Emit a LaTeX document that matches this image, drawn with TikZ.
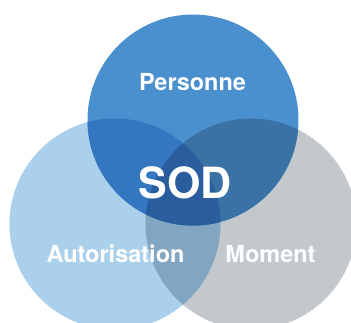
\documentclass[tikz,border=0pt]{standalone}
\usepackage{fontspec}
\setmainfont{TeX Gyre Heros}
\definecolor{cL}{HTML}{ABD0EC}
\definecolor{cR}{HTML}{C3C8CC}
\definecolor{cT}{HTML}{4A90CE}
\definecolor{cLR}{HTML}{82A5C1}
\definecolor{cTL}{HTML}{3476C0}
\definecolor{cTR}{HTML}{3A72A6}
\definecolor{cTLR}{HTML}{2A5D9E}
\tikzset{lab/.style={text=white,font=\bfseries\fontsize{23.5}{26}\selectfont,inner sep=0pt}}
\begin{document}
\begin{tikzpicture}[x=1pt,y=-1pt]
\useasboundingbox (0,0) rectangle (351,323);
\def\rr{105.5}
\coordinate (L) at (115,224);
\coordinate (R) at (251,224);
\coordinate (T) at (193,120);
\begin{scope}
\clip (0,0) rectangle (351,323);
\fill[cL] (L) circle (\rr);
\fill[cR] (R) circle (\rr);
\begin{scope}\clip (L) circle (\rr); \fill[cLR] (R) circle (\rr);\end{scope}
\fill[cT] (T) circle (\rr);
\begin{scope}\clip (T) circle (\rr); \fill[cTL] (L) circle (\rr); \fill[cTR] (R) circle (\rr);
  \clip (L) circle (\rr); \fill[cTLR] (R) circle (\rr);\end{scope}
\end{scope}
\node[lab] (p) at (192.5,82) {Personne};
\node[lab,font=\bfseries\fontsize{43}{46}\selectfont] (s) at (185,183) {SOD};
\node[lab] (a) at (115.5,254) {Autorisation};
\node[lab] (m) at (270.5,254) {Moment};
\end{tikzpicture}
\end{document}
